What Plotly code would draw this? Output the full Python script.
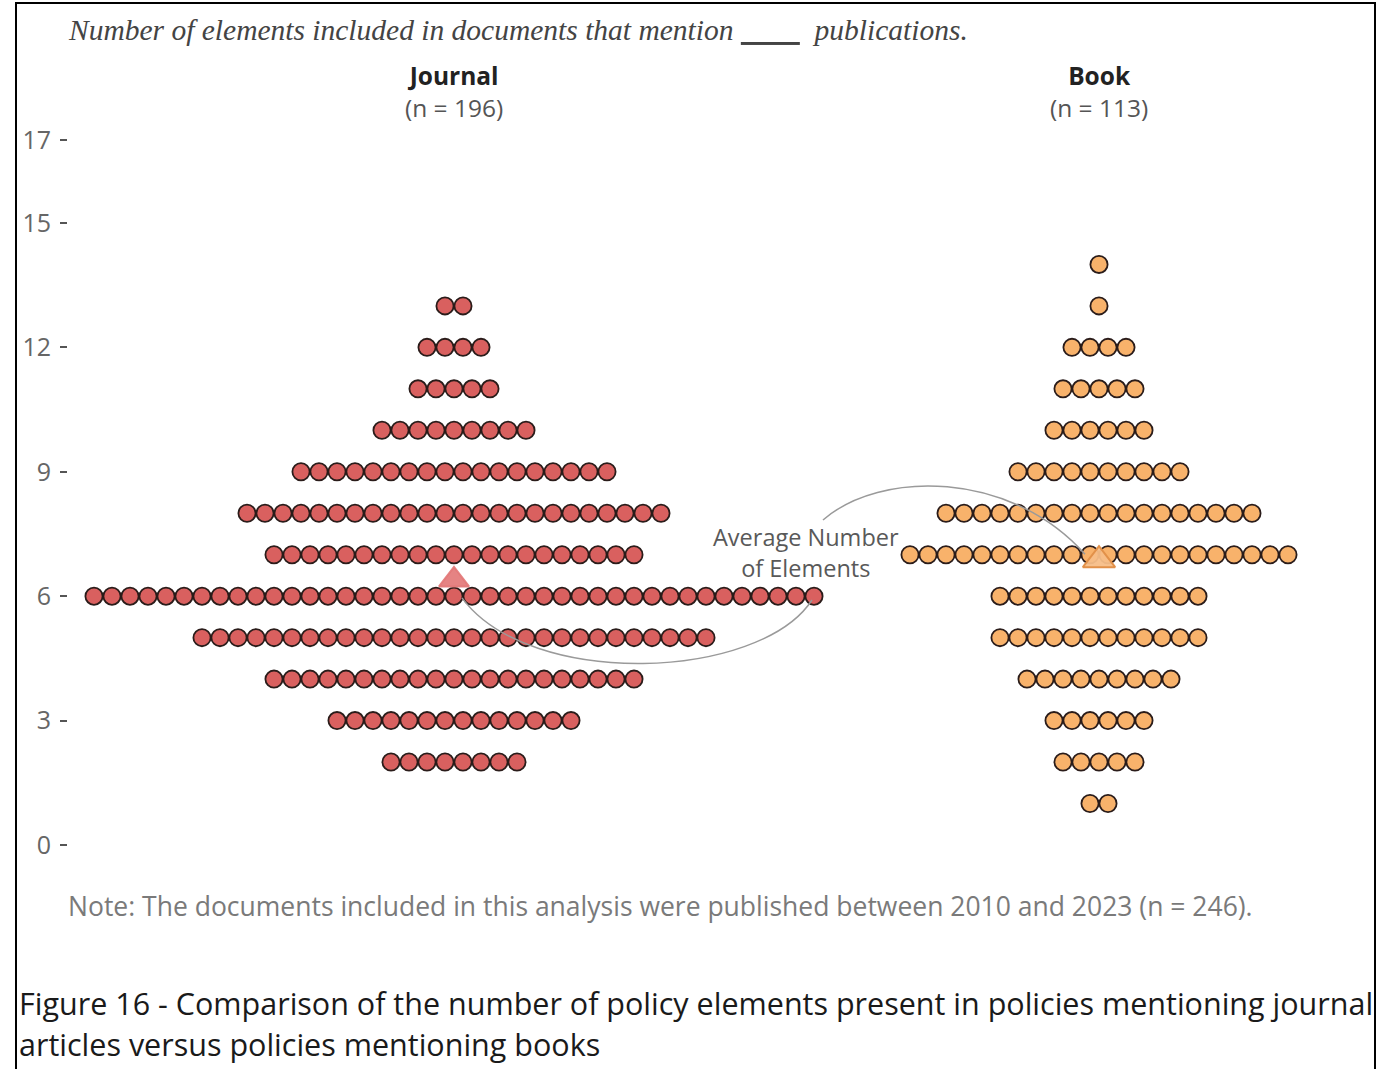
import plotly.graph_objects as go

# ---------------- data ----------------
categories = ["Journal", "Book"]
journal_levels = [2, 3, 4, 5, 6, 7, 8, 9, 10, 11, 12, 13]
journal_counts = [8, 14, 21, 29, 41, 21, 24, 18, 9, 5, 4, 2]
book_levels = [1, 2, 3, 4, 5, 6, 7, 8, 9, 10, 11, 12, 13, 14]
book_counts = [2, 5, 6, 9, 12, 12, 22, 18, 10, 6, 5, 4, 1, 1]
y_ticks = [0, 3, 6, 9, 12, 15, 17]

# ---------------- layout constants (reference-pixel based) ----------------
W, H = 1384, 1069
ML, MR, MT, MB = 68, 16, 120, 199
PW, PH = W - ML - MR, H - MT - MB
SPACING_PX = 18.0            # px between dot centres (1 x unit)
J_CENTER_PX, B_CENTER_PX = 454, 1099
Y0_PX, PX_PER_UNIT = 845, 41.47

def dx(px):
    return (px - J_CENTER_PX) / SPACING_PX

def dy(py):
    return (Y0_PX - py) / PX_PER_UNIT

def paper_x(px):
    return (px - ML) / PW

def paper_y(py):
    return (H - MB - py) / PH

centers = {"Journal": dx(J_CENTER_PX), "Book": dx(B_CENTER_PX)}
fills = {"Journal": "#D9605F", "Book": "#F8B26B"}
tri_fill = {"Journal": "rgba(226,118,118,0.9)", "Book": "rgba(247,190,136,0.95)"}
tri_line = {"Journal": "rgba(226,118,118,0.9)", "Book": "#E2914A"}
tri_size = {"Journal": 26, "Book": 28}

series = {"Journal": (journal_levels, journal_counts),
          "Book": (book_levels, book_counts)}

fig = go.Figure()
means = {}
for cat in categories:
    levels, counts = series[cat]
    xs, ys = [], []
    for lv, n in zip(levels, counts):
        for i in range(n):
            xs.append(centers[cat] + (i - (n - 1) / 2))
            ys.append(lv)
    fig.add_trace(go.Scatter(
        x=xs, y=ys, mode="markers", name=cat, showlegend=False,
        marker=dict(size=17.2, color=fills[cat],
                    line=dict(color="#2A1C1A", width=1.8))))
    total = sum(counts)
    means[cat] = sum(l * c for l, c in zip(levels, counts)) / total

for cat in categories:
    fig.add_trace(go.Scatter(
        x=[centers[cat]], y=[means[cat]], mode="markers", showlegend=False,
        marker=dict(symbol="triangle-up", size=tri_size[cat], color=tri_fill[cat],
                    line=dict(color=tri_line[cat], width=2))))

# ---------------- curved annotation connectors ----------------
def bez(p0, p1, p2, p3):
    pts = [p0, p1, p2, p3]
    s = "M {:.4f},{:.4f} C ".format(dx(pts[0][0]), dy(pts[0][1]))
    s += " ".join("{:.4f},{:.4f}".format(dx(x), dy(y)) for x, y in pts[1:])
    return s

jm_px = (J_CENTER_PX + 8, Y0_PX - means["Journal"] * PX_PER_UNIT + 18)
bm_px = (B_CENTER_PX - 14, Y0_PX - means["Book"] * PX_PER_UNIT - 6)

shapes = [
    dict(type="path", xref="x", yref="y",
         path=bez((812, 600), (760, 680), (530, 690), jm_px),
         line=dict(color="#9A9A9A", width=1.5)),
    dict(type="path", xref="x", yref="y",
         path=bez((823, 520), (880, 470), (1010, 470), bm_px),
         line=dict(color="#9A9A9A", width=1.5)),
    # outer frame
    dict(type="rect", xref="paper", yref="paper",
         x0=paper_x(16), x1=paper_x(1375), y0=paper_y(1090), y1=paper_y(3),
         line=dict(color="black", width=2), fillcolor="rgba(0,0,0,0)", layer="below"),
]

annotations = [
    dict(text="<i>Number of elements included in documents that mention <u>        </u>  publications.</i>",
         xref="paper", yref="paper", x=paper_x(66), y=paper_y(30),
         xanchor="left", yanchor="middle", showarrow=False,
         font=dict(family="Liberation Serif", size=29.5, color="#444444")),
    dict(text="Average Number<br>of Elements", xref="x", yref="y",
         x=dx(806), y=dy(552), xanchor="center", yanchor="middle", showarrow=False,
         font=dict(family="Open Sans", size=23.5, color="#595959")),
    dict(text="Note: The documents included in this analysis were published between 2010 and 2023 (n = 246).",
         xref="paper", yref="paper", x=paper_x(66), y=paper_y(906),
         xanchor="left", yanchor="middle", showarrow=False,
         font=dict(family="Open Sans", size=26.5, color="#7A7A7A")),
    dict(text="Figure 16 - Comparison of the number of policy elements present in policies mentioning journal",
         xref="paper", yref="paper", x=paper_x(17), y=paper_y(1003),
         xanchor="left", yanchor="middle", showarrow=False,
         font=dict(family="Open Sans", size=30.5, color="#1A1A1A")),
    dict(text="articles versus policies mentioning books",
         xref="paper", yref="paper", x=paper_x(17), y=paper_y(1044),
         xanchor="left", yanchor="middle", showarrow=False,
         font=dict(family="Open Sans", size=30.5, color="#1A1A1A")),
]
for cat in categories:
    levels, counts = series[cat]
    annotations.append(dict(
        text="<b>{}</b><br><span style='color:#555555'>(n = {})</span>".format(cat, sum(counts)),
        xref="x", yref="paper", x=centers[cat], y=paper_y(91.5),
        xanchor="center", yanchor="middle", showarrow=False, align="center",
        font=dict(family="Open Sans", size=24.5, color="#222222")))

fig.update_layout(
    width=W, height=H,
    margin=dict(l=ML, r=MR, t=MT, b=MB),
    paper_bgcolor="white", plot_bgcolor="white",
    xaxis=dict(range=[dx(ML), dx(ML + PW)], visible=False, fixedrange=True),
    yaxis=dict(range=[dy(H - MB), dy(MT)], tickvals=y_ticks,
               ticktext=[str(v) for v in y_ticks],
               showgrid=False, zeroline=False, showline=False,
               ticks="outside", ticklen=7, tickwidth=2, tickcolor="#555555",
               ticklabelstandoff=4,
               tickfont=dict(family="Open Sans", size=25, color="#666666")),
    shapes=shapes, annotations=annotations,
    font=dict(family="Open Sans"),
)

fig.write_html("out.html", config={"displayModeBar": False},
               post_script="document.body.style.margin='0px';")
